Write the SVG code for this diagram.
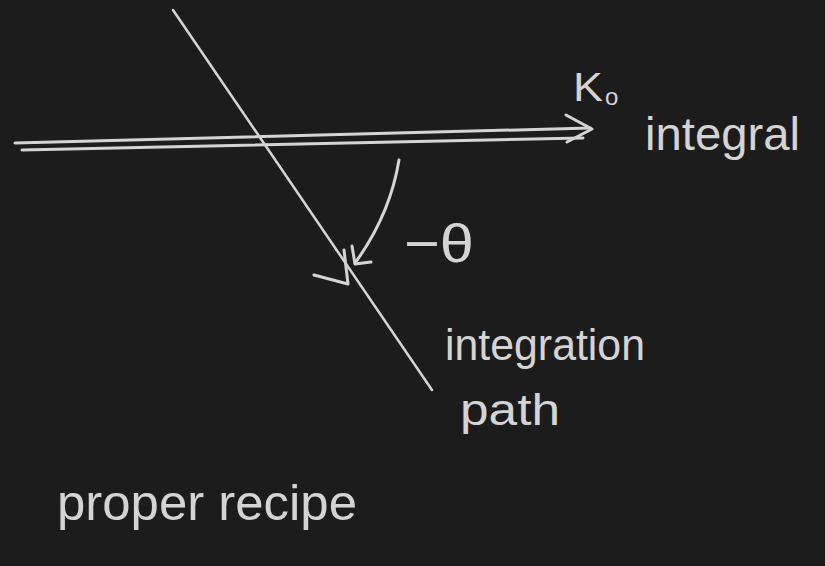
<svg xmlns="http://www.w3.org/2000/svg" width="825" height="566" viewBox="0 0 825 566">
<style>
.ch{fill:none;stroke:#d4d4d4;stroke-linecap:round;stroke-linejoin:round}
.t{fill:#d4d4d4;font-family:"Liberation Sans",Arial,sans-serif}
</style>
<rect width="825" height="566" fill="#1c1c1c"/>
<g id="axis">
<path class="ch" stroke-width="3" d="M15 143 L590 128"/>
<path class="ch" stroke-width="3" d="M22 150 L583 138"/>
<path class="ch" stroke-width="3" d="M566 115 L592 129 L567 142"/>
</g>
<g id="path-line">
<path class="ch" stroke-width="2.5" d="M173 10 L432 390"/>
<path class="ch" stroke-width="3" d="M314 275 L348 284 L344 250"/>
</g>
<g id="angle-arrow">
<path class="ch" stroke-width="3" d="M399 160 Q390 215 355 263"/>
<path class="ch" stroke-width="3" d="M352 246 L355 264 L371 262"/>
</g>
<g id="labels">
<text class="t" x="573" y="101" font-size="40" textLength="30" lengthAdjust="spacingAndGlyphs">K</text>
<text class="t" x="605" y="105" font-size="24">o</text>
<text class="t" x="645" y="150" font-size="46" textLength="155" lengthAdjust="spacingAndGlyphs">integral</text>
<text class="t" x="404" y="262" font-size="54" textLength="70" lengthAdjust="spacingAndGlyphs">−θ</text>
<text class="t" x="445" y="360" font-size="44" textLength="200" lengthAdjust="spacingAndGlyphs">integration</text>
<text class="t" x="460" y="425" font-size="44" textLength="100" lengthAdjust="spacingAndGlyphs">path</text>
<text class="t" x="57" y="520" font-size="50" textLength="300" lengthAdjust="spacingAndGlyphs">proper recipe</text>
</g>
</svg>
